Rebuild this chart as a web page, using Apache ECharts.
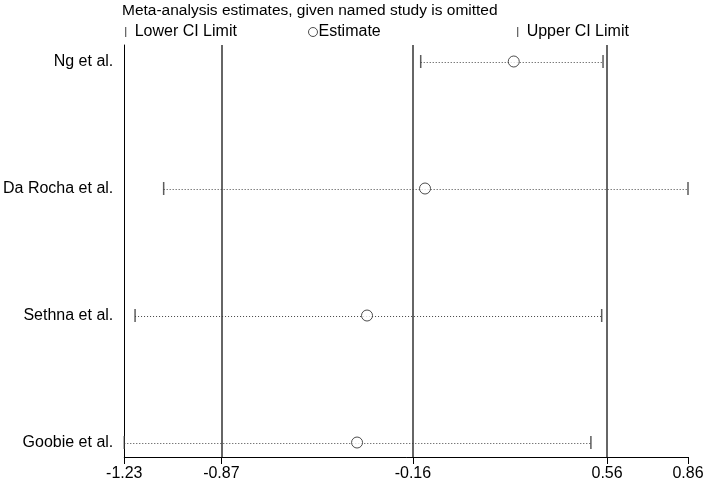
<!DOCTYPE html>
<html><head><meta charset="utf-8">
<script src="https://cdn.jsdelivr.net/npm/echarts@6/dist/echarts.min.js"></script>
<style>html,body{margin:0;padding:0;background:#fff}#c{width:709px;height:482px}</style>
</head><body><div id="c"></div>
<script>
var studies = ['Ng et al.', 'Da Rocha et al.', 'Sethna et al.', 'Goobie et al.'];
var rowPos = [4, 3, 2, 1];
var estimates = [0.214, -0.115, -0.33, -0.367];
var lowerCI = [-0.131, -1.084, -1.19, -1.23];
var upperCI = [0.545, 0.86, 0.54, 0.50];
var xTicks = [-1.23, -0.87, -0.16, 0.56, 0.86];
var refLines = [-0.87, -0.16, 0.56];

var FONT = 'Liberation Sans, Arial, sans-serif';
var chart = echarts.init(document.getElementById('c'));
function pts(vals){ return vals.map(function(v,i){ return [v, rowPos[i]]; }); }
var barPath = 'path://M0,0L1.3,0L1.3,10L0,10Z';
var legText = { fontFamily: FONT, fontSize: 16, color: '#000' };
chart.setOption({
  animation: false,
  title: { text: 'Meta-analysis estimates, given named study is omitted', left: 117, top: -2,
    textStyle: { fontFamily: FONT, fontSize: 15.5, fontWeight: 'normal', color: '#000' } },
  legend: [
    { data: ['Lower CI Limit'], left: 120, top: 19, itemWidth: 8, itemHeight: 10, icon: barPath,
      itemStyle: { color: '#444' }, textStyle: legText },
    { data: ['Estimate'], left: 303, top: 19, itemWidth: 9, itemHeight: 9,
      itemStyle: { borderWidth: 1, borderColor: '#222', color: '#fff' },
      textStyle: Object.assign({}, legText, { padding: [0,0,0,-4] }) },
    { data: ['Upper CI Limit'], left: 512, top: 19, itemWidth: 8, itemHeight: 10, icon: barPath,
      itemStyle: { color: '#444' }, textStyle: legText }
  ],
  grid: { left: 122, right: 21, top: 45, bottom: 25, containLabel: false },
  xAxis: {
    type: 'value', min: -1.23, max: 0.86,
    axisLine: { show: true, onZero: false, lineStyle: { color: '#000', width: 1 } },
    axisTick: { show: true, length: 7, customValues: xTicks, lineStyle: { color: '#000' } },
    axisLabel: { customValues: xTicks, fontFamily: FONT, fontSize: 16, color: '#000', margin: 9,
      formatter: function(v){ return v.toFixed(2); } },
    splitLine: { show: false }
  },
  yAxis: {
    type: 'value', min: 0.886, max: 4.13,
    axisLine: { show: true, onZero: false, lineStyle: { color: '#000', width: 1 } },
    axisTick: { show: false },
    axisLabel: { customValues: rowPos, fontFamily: FONT, fontSize: 16, color: '#000', margin: 11,
      formatter: function(v){ var i = rowPos.indexOf(Math.round(v)); return i >= 0 ? studies[i] : ''; } },
    splitLine: { show: false }
  },
  series: [
    { type: 'custom', name: 'ci', silent: true,
      data: lowerCI.map(function(l,i){ return [l, upperCI[i], rowPos[i]]; }),
      renderItem: function(params, api){
        var a = api.coord([api.value(0), api.value(2)]);
        var b = api.coord([api.value(1), api.value(2)]);
        return { type: 'line', shape: { x1: a[0], y1: Math.round(a[1])+0.5, x2: b[0], y2: Math.round(b[1])+0.5 },
          style: { stroke: '#444', lineWidth: 1, lineDash: [1, 2] } };
      },
      markLine: { silent: true, symbol: 'none', label: { show: false },
        lineStyle: { color: '#333', width: 1.5, type: 'solid' },
        data: refLines.map(function(v){ return { xAxis: v }; }) }
    },
    { type: 'scatter', name: 'Lower CI Limit', data: pts(lowerCI), symbol: 'rect', symbolSize: [1.5, 13],
      itemStyle: { color: '#333' }, z: 3 },
    { type: 'scatter', name: 'Upper CI Limit', data: pts(upperCI), symbol: 'rect', symbolSize: [1.5, 13],
      itemStyle: { color: '#333' }, z: 3 },
    { type: 'scatter', name: 'Estimate', data: pts(estimates), symbol: 'circle', symbolSize: 11,
      itemStyle: { color: '#fff', borderColor: '#222', borderWidth: 1 }, z: 4 }
  ]
});
</script></body></html>
